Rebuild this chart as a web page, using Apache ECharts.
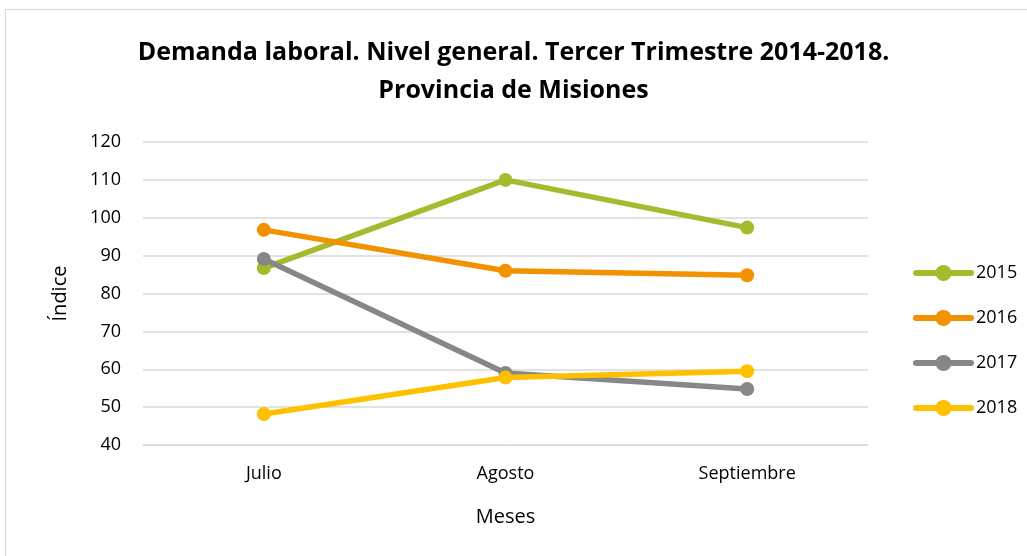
<!DOCTYPE html>
<html>
<head>
<meta charset="utf-8">
<script src="https://cdn.jsdelivr.net/npm/echarts@6/dist/echarts.min.js"></script>
<style>
  html, body { margin: 0; padding: 0; background: #fff; }
  #frame { position: absolute; left: 5px; top: 9px; width: 1040px; height: 560px; border: 1px solid #d9d9d9; box-sizing: border-box; }
  #chart { position: absolute; left: 0; top: 0; width: 1027px; height: 556px; }
</style>
</head>
<body>
<div id="frame"></div>
<div id="chart"></div>
<script>
const meses = ['Julio', 'Agosto', 'Septiembre'];
const s2015 = [86.7, 110.0, 97.4];
const s2016 = [96.8, 86.0, 84.8];
const s2017 = [89.1, 59.0, 54.8];
const s2018 = [48.2, 57.8, 59.5];
const years = ['2015', '2016', '2017', '2018'];
const colores = ['#a5ba2c', '#f39200', '#878787', '#ffc000'];

const chart = echarts.init(document.getElementById('chart'));
const font = 'Open Sans';

const seriesData = [s2015, s2016, s2017, s2018].map(function (d, i) {
    return {
        name: years[i],
        type: 'line',
        symbol: 'circle',
        symbolSize: 14,
        lineStyle: { width: 5.5, color: colores[i] },
        itemStyle: { color: colores[i] },
        data: d
    };
});

chart.setOption({
    animation: false,
    textStyle: { fontFamily: font },
    title: {
        text: 'Demanda laboral. Nivel general. Tercer Trimestre 2014-2018.\nProvincia de Misiones',
        left: 'center',
        top: 29,
        textStyle: { fontSize: 25, fontWeight: 'bold', color: '#000', lineHeight: 38, fontFamily: font }
    },
    legend: {
        orient: 'vertical',
        left: 908,
        top: 259,
        itemGap: 27,
        itemWidth: 55,
        itemHeight: 20,
        lineStyle: { width: 6, cap: 'round' },
        textStyle: { fontSize: 18, color: '#000', padding: [0, 0, 0, 0] },
        data: years
    },
    grid: { left: 143, right: 159, top: 142, bottom: 111, containLabel: false },
    xAxis: {
        type: 'category',
        data: meses,
        name: 'Meses',
        nameLocation: 'middle',
        nameGap: 62,
        nameTextStyle: { fontSize: 20, color: '#000' },
        axisLine: { lineStyle: { color: '#d9d9d9' } },
        axisTick: { show: false },
        axisLabel: { fontSize: 18, color: '#000', margin: 20 }
    },
    yAxis: {
        type: 'value',
        min: 40,
        max: 120,
        interval: 10,
        name: 'Índice',
        nameLocation: 'middle',
        nameGap: 73,
        nameTextStyle: { fontSize: 20, color: '#000' },
        axisLine: { show: false },
        axisTick: { show: false },
        axisLabel: { fontSize: 18, color: '#000', margin: 22 },
        splitLine: { lineStyle: { color: '#d9d9d9', width: 1.5 } }
    },
    series: seriesData
});
</script>
</body>
</html>
